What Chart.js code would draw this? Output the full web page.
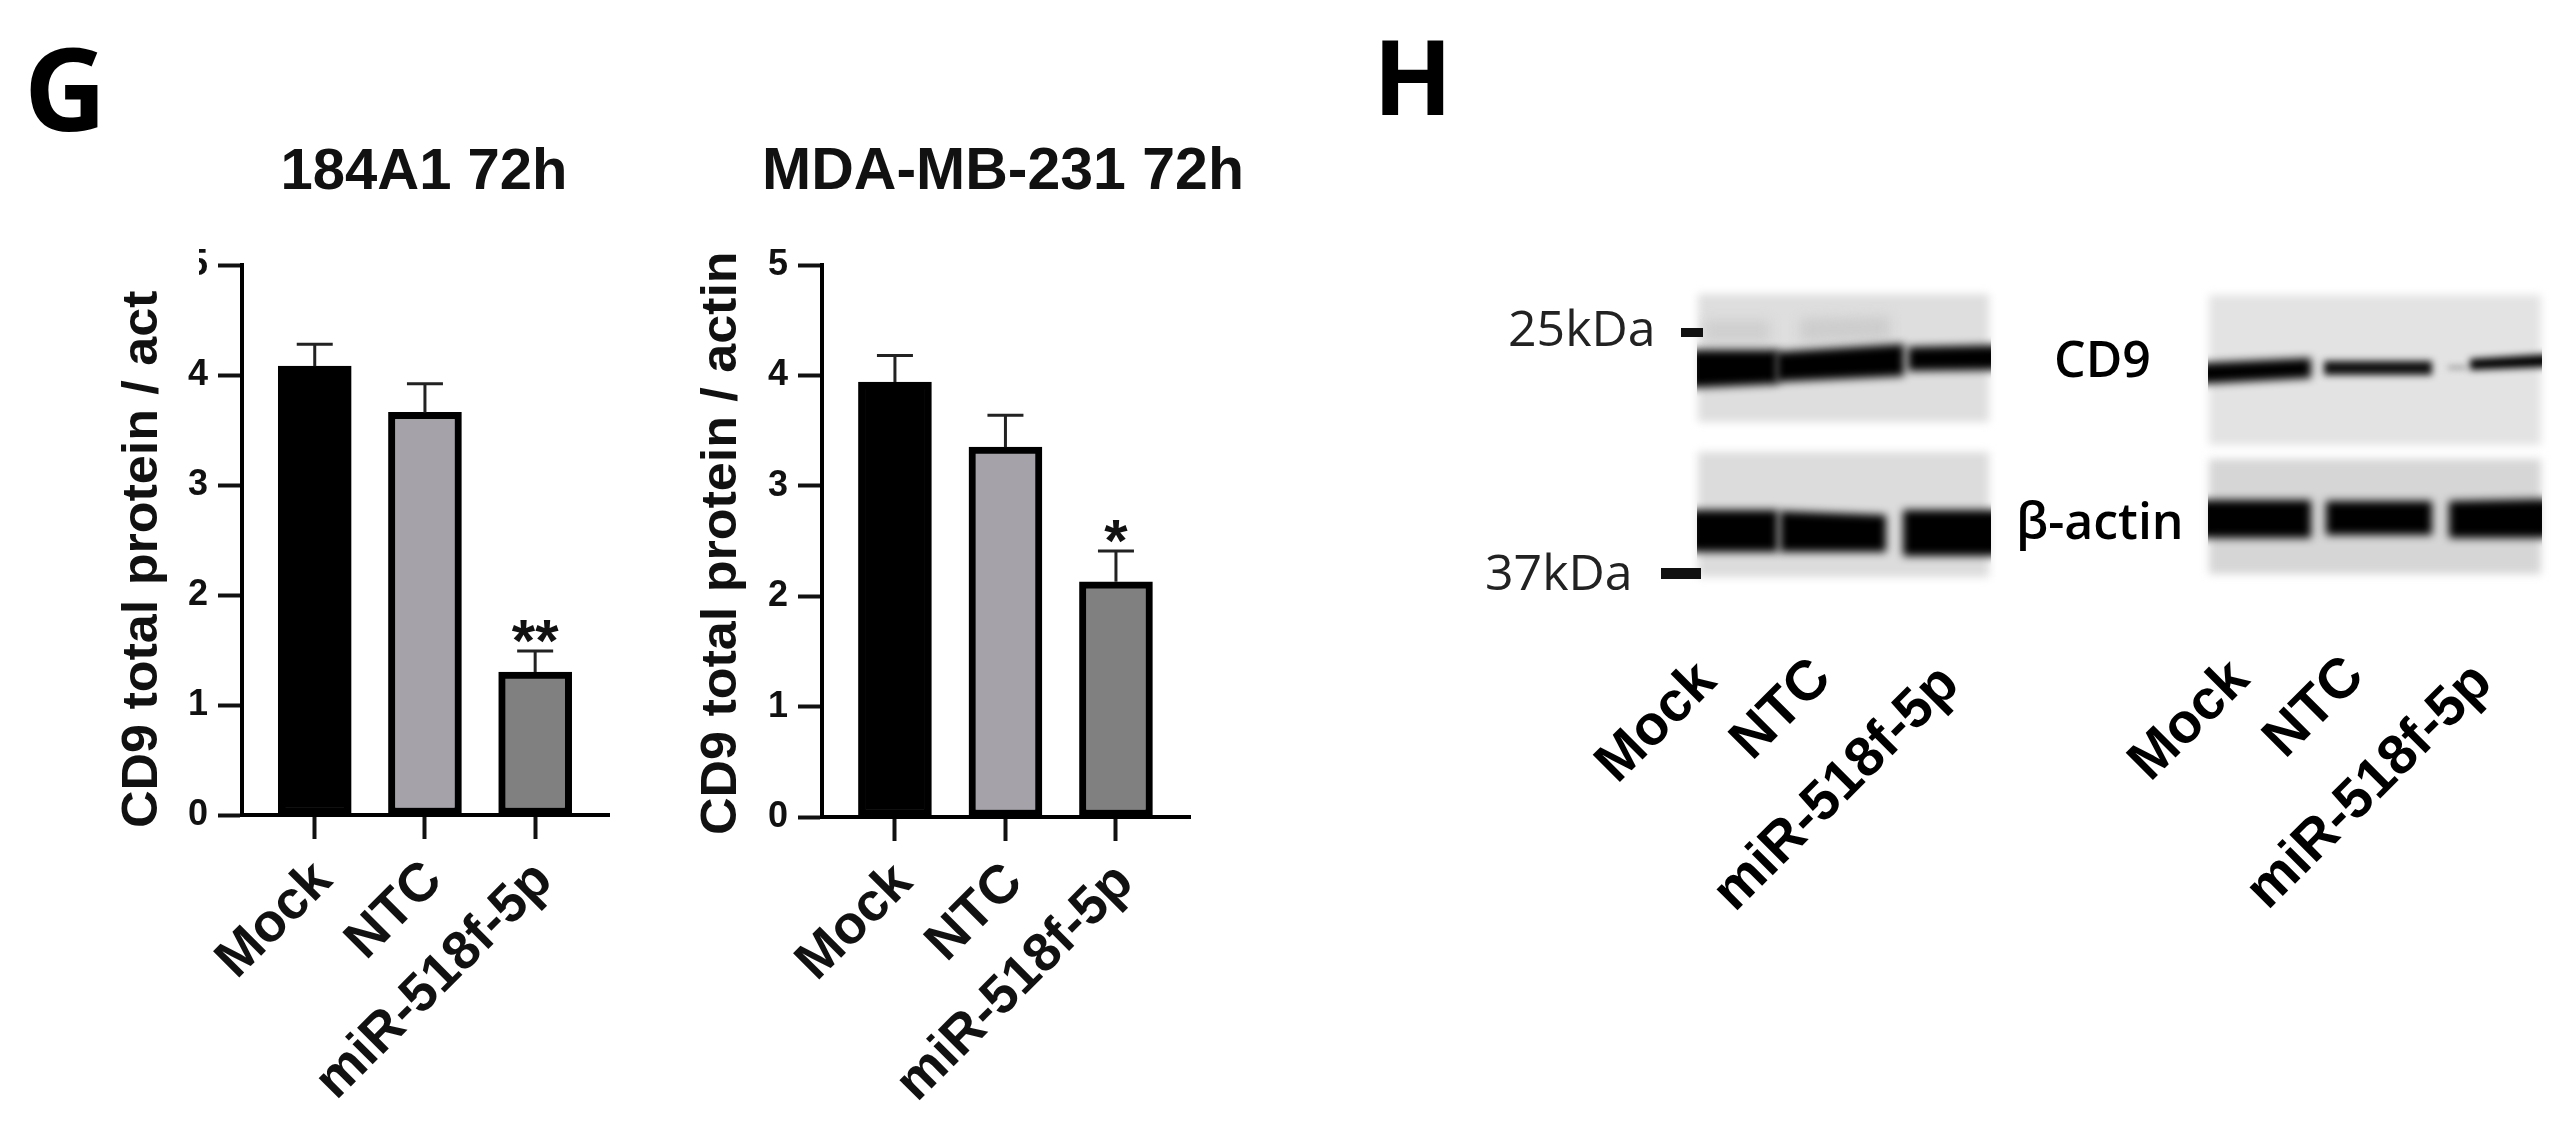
<!DOCTYPE html>
<html>
<head>
<meta charset="utf-8">
<title>CD9 total protein</title>
<script src="https://cdn.jsdelivr.net/npm/chart.js@4/dist/chart.umd.min.js"></script>
<style>
  html, body { margin: 0; padding: 0; background: #fff; }
  #page { position: relative; width: 2572px; height: 1140px; overflow: hidden; background: #fff; filter: blur(0.7px); }
  canvas { position: absolute; left: 0; top: 0; }
  .txt { position: absolute; white-space: nowrap; color: #000; line-height: 1; }
  .panel { font-family: "Open Sans", sans-serif; font-weight: 700; font-size: 104px; }
  .size { font-family: "Open Sans", sans-serif; font-size: 50px; color: #222; }
  .name { font-family: "Open Sans", sans-serif; font-weight: 600; font-size: 50px; }
  .lane {
    font-family: "Liberation Sans", sans-serif; font-weight: 700; font-size: 56px;
    transform-origin: 100% 50%; transform: translate(-100%, -50%) rotate(-45deg);
  }
</style>
</head>
<body>
<div id="page">
  <canvas id="blots" width="2572" height="1140"></canvas>
  <canvas id="chartLeft" width="2572" height="1140"></canvas>
  <canvas id="chartRight" width="2572" height="1140"></canvas>

  <div class="txt panel" style="left:24px;top:30px;font-size:114px">G</div>
  <div class="txt panel" style="left:1373px;top:23px">H</div>

  <div class="txt size" style="left:1508px;top:302px">25kDa</div>
  <div class="txt size" style="left:1485px;top:546px">37kDa</div>
  <div class="txt name" style="left:2054px;top:333px">CD9</div>
  <div class="txt name" style="left:2016px;top:495px">β-actin</div>

  <div class="txt lane" style="left:1705px;top:670px">Mock</div>
  <div class="txt lane" style="left:1820px;top:667px">NTC</div>
  <div class="txt lane" style="left:1948px;top:673px">miR-518f-5p</div>
  <div class="txt lane" style="left:2238px;top:668px">Mock</div>
  <div class="txt lane" style="left:2353px;top:665px">NTC</div>
  <div class="txt lane" style="left:2481px;top:671px">miR-518f-5p</div>
</div>

<script>
const categories = ['Mock', 'NTC', 'miR-518f-5p']
const yTicks = [0, 1, 2, 3, 4, 5]
const barColors = ['#000000', '#a5a3a9', '#808080']

const leftTitle = '184A1 72h'
const leftLabel = 'CD9 total protein / act'
const leftValues = [4.08, 3.66, 1.3]
const leftErrors = [0.2, 0.26, 0.19]
const leftStars = ['', '', '**']

const rightTitle = 'MDA-MB-231 72h'
const rightLabel = 'CD9 total protein / actin'
const rightValues = [3.94, 3.35, 2.13]
const rightErrors = [0.24, 0.29, 0.28]
const rightStars = ['', '', '*']

// error whiskers and significance stars, placed through the chart's own scales
const errorBars = {
  id: 'errorBars',
  afterDatasetsDraw(chart, args, opts) {
    const ctx = chart.ctx
    const xs = chart.scales.x
    const ys = chart.scales.y
    ctx.save()
    categories.forEach((c, i) => {
      const x = xs.getPixelForValue(i)
      const top = ys.getPixelForValue(opts.values[i])
      const end = ys.getPixelForValue(opts.values[i] + opts.errors[i])
      ctx.strokeStyle = '#222'
      ctx.lineWidth = 3
      ctx.beginPath()
      ctx.moveTo(x, top)
      ctx.lineTo(x, end)
      ctx.moveTo(x - 18, end)
      ctx.lineTo(x + 18, end)
      ctx.stroke()
      if (opts.stars[i]) {
        ctx.fillStyle = '#111'
        ctx.font = 'bold 60px "Liberation Sans"'
        ctx.textAlign = 'center'
        ctx.textBaseline = 'alphabetic'
        ctx.fillText(opts.stars[i], x, end + 10)
      }
    })
    ctx.restore()
  }
}

// title sits off-centre from the plot and the y title is squeezed, the built-in ones can't do either
const chartTexts = {
  id: 'chartTexts',
  afterDraw(chart, args, opts) {
    const ctx = chart.ctx
    ctx.save()
    ctx.fillStyle = '#111'
    ctx.font = 'bold ' + opts.titleSize + 'px "Liberation Sans"'
    ctx.textAlign = 'center'
    ctx.textBaseline = 'middle'
    ctx.fillText(opts.title, opts.titleX, 173)

    ctx.translate(opts.x, opts.start)
    ctx.rotate(-Math.PI / 2)
    ctx.scale(1, 0.95)
    ctx.font = 'bold 52px "Liberation Sans"'
    ctx.textAlign = 'left'
    ctx.fillText(opts.text, 0, 0)
    ctx.restore()
    // the top tick label is cut off in the left panel
    if (opts.cutFive) {
      ctx.fillStyle = '#fff'
      ctx.fillRect(180, 240, 19, 50)
    }
  }
}

function makeChart(id, title, titleSize, titleX, label, values, errors, stars, area, labelX, labelStart, cutFive) {
  const canvas = document.getElementById(id)
  return new Chart(canvas, {
    type: 'bar',
    data: {
      datasets: [{
        data: categories.map((c, i) => ({ x: i, y: values[i] })),
        backgroundColor: barColors,
        borderColor: '#000',
        borderWidth: 7,
        borderSkipped: false,
        barThickness: 73
      }]
    },
    plugins: [errorBars, chartTexts],
    options: {
      responsive: false,
      animation: false,
      layout: { padding: { left: 0, right: canvas.width - area.right, top: area.top, bottom: 0 } },
      plugins: {
        legend: { display: false },
        tooltip: { enabled: false },
        title: { display: false },
        errorBars: { values, errors, stars },
        chartTexts: { title, titleSize, titleX, text: label, x: labelX, start: labelStart, cutFive }
      },
      scales: {
        x: {
          type: 'linear',
          offset: false,
          min: -0.66,
          max: 2.67,
          afterBuildTicks: scale => {
            scale.ticks = categories.map((c, i) => ({ value: i }))
          },
          afterFit: scale => { scale.height = 1140 - area.bottom },
          border: { color: '#000', width: 4 },
          grid: { offset: false, drawOnChartArea: false, drawTicks: true, tickLength: 24, tickWidth: 4, tickColor: '#111' },
          ticks: {
            stepSize: 1,
            autoSkip: false,
            minRotation: 45,
            maxRotation: 45,
            padding: 10,
            labelOffset: 9,
            color: '#111',
            font: { family: 'Liberation Sans', weight: 'bold', size: 54 },
            callback: v => categories[v]
          }
        },
        y: {
          min: yTicks[0],
          max: yTicks[yTicks.length - 1],
          afterFit: scale => { scale.width = area.left },
          border: { color: '#000', width: 4 },
          grid: { drawOnChartArea: false, drawTicks: true, tickLength: 24, tickWidth: 4, tickColor: '#111' },
          ticks: {
            stepSize: 1,
            padding: 10,
            color: '#111',
            font: { family: 'Liberation Sans', weight: 'bold', size: 36 }
          }
        }
      }
    }
  })
}

makeChart('chartLeft', leftTitle, 58, 424, leftLabel, leftValues, leftErrors, leftStars,
  { left: 242, right: 609, top: 265, bottom: 815 }, 143, 828, true)
makeChart('chartRight', rightTitle, 59, 1003, rightLabel, rightValues, rightErrors, rightStars,
  { left: 822, right: 1190, top: 265, bottom: 817 }, 722, 835, false)

// western blot strips, just soft grey panels with dark bands
const blot = document.getElementById('blots').getContext('2d')

function panel(x, y, w, h, shade) {
  blot.filter = 'blur(4px)'
  blot.fillStyle = shade
  blot.fillRect(x, y, w, h)
  blot.filter = 'none'
}

function band(x1, x2, yTop1, yBot1, yTop2, yBot2, color, blur) {
  blot.filter = 'blur(' + blur + 'px)'
  blot.fillStyle = color
  blot.beginPath()
  blot.moveTo(x1, yTop1)
  blot.lineTo(x2, yTop2)
  blot.lineTo(x2, yBot2)
  blot.lineTo(x1, yBot1)
  blot.closePath()
  blot.fill()
  blot.filter = 'none'
}

panel(1698, 294, 291, 128, '#dedede')
panel(1698, 452, 291, 125, '#dcdcdc')
panel(2209, 295, 332, 150, '#e3e3e3')
panel(2209, 459, 332, 115, '#d6d6d6')

// clip so the bands stop at the strip edges
blot.save()
blot.beginPath()
blot.rect(1697, 290, 294, 290)
blot.rect(2208, 290, 334, 288)
blot.clip()

band(1705, 1770, 320, 342, 320, 342, '#cfcfcf', 6)
band(1800, 1890, 318, 342, 316, 340, '#cdcdcd', 6)
band(1690, 1778, 350, 388, 350, 384, '#000', 4.5)
band(1776, 1904, 352, 382, 344, 376, '#000', 4.5)
band(1908, 2000, 347, 371, 345, 370, '#000', 4.5)

band(1690, 1778, 510, 552, 510, 552, '#000', 4.5)
band(1780, 1886, 511, 552, 515, 552, '#000', 4.5)
band(1903, 2000, 510, 556, 510, 556, '#000', 4.5)

band(2200, 2311, 363, 384, 358, 378, '#000', 4)
band(2324, 2432, 361, 375, 361, 375, '#111', 3.5)
band(2448, 2466, 366, 369, 366, 369, '#8a8a8a', 3)
band(2470, 2550, 359, 370, 354, 367, '#000', 3.5)

band(2200, 2311, 500, 538, 500, 538, '#000', 4.5)
band(2326, 2432, 501, 535, 501, 535, '#000', 4.5)
band(2449, 2550, 501, 538, 499, 538, '#000', 4.5)
blot.restore()

// size marker dashes
blot.fillStyle = '#111'
blot.fillRect(1681, 328, 22, 9)
blot.fillRect(1661, 568, 40, 11)
</script>
</body>
</html>
